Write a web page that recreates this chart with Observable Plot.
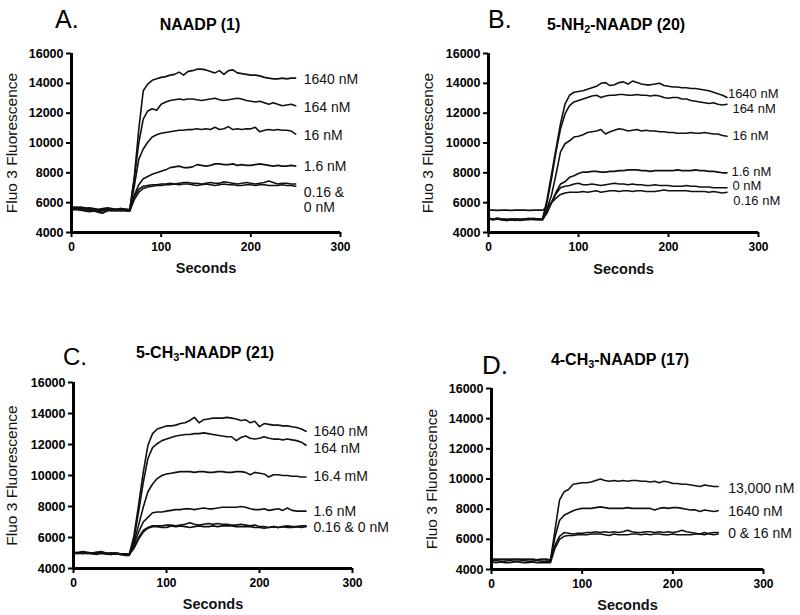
<!DOCTYPE html>
<html><head><meta charset="utf-8">
<script src="https://cdn.jsdelivr.net/npm/d3@7"></script>
<script src="https://cdn.jsdelivr.net/npm/@observablehq/plot@0.6"></script>
<style>
body{margin:0;background:#fff;font-family:"Liberation Sans",Arial,sans-serif;}
#wrap{position:relative;width:800px;height:615px;overflow:hidden;background:#fff}
.panel{position:absolute}
.letter{position:absolute;line-height:1;white-space:nowrap;color:#000}
.title{position:absolute;line-height:1;font-size:16px;font-weight:bold;white-space:nowrap;transform:translateX(-50%);color:#000}
.title sub{font-size:0.68em;vertical-align:-0.3em;line-height:0}
</style></head>
<body><div id="wrap"></div>
<script>
// ---------- data ----------
const timesACD = [0,5,10,15,20,25,30,35,40,45,50,55,60,65,70,75,80,85,90,95,100,105,110,115,120,125,130,135,140,145,150,155,160,165,170,175,180,185,190,195,200,205,210,215,220,225,230,235,240,245,250];
const timesB = [0,5,10,15,20,25,30,35,40,45,50,55,60,65,70,75,80,85,90,95,100,105,110,115,120,125,130,135,140,145,150,155,160,165,170,175,180,185,190,195,200,205,210,215,220,225,230,235,240,245,250,255,260,265];

const yTicks = [4000,6000,8000,10000,12000,14000,16000];
const xTicks = [0,100,200,300];

// Panel A: NAADP (1)
const namesA = ["1640 nM","164 nM","16 nM","1.6 nM","0.16 nM","0 nM"];
const a1640 = [5650,5700,5650,5600,5650,5600,5550,5600,5650,5600,5550,5600,5550,5550,7700,10900,13500,13950,14200,14300,14400,14450,14550,14600,14750,14550,14800,14850,14950,14950,14900,14800,14700,14850,14600,14850,14900,14700,14650,14600,14550,14550,14500,14400,14350,14300,14300,14350,14300,14350,14350];
const a164 = [5600,5650,5600,5550,5600,5500,5450,5500,5550,5500,5500,5550,5500,5500,7600,10000,11600,12150,12300,12200,12600,12750,12850,12900,12950,12900,12950,12950,12900,12850,12900,12950,13000,12900,12850,12900,12950,13000,12950,12850,12800,12750,12800,12700,12600,12700,12600,12500,12550,12600,12500];
const a16 = [5700,5650,5700,5650,5600,5550,5500,5550,5600,5550,5550,5600,5550,5500,7100,8900,9600,10050,10400,10550,10650,10700,10750,10800,10850,10850,10900,10900,10950,10900,10950,10900,11050,10900,10950,11100,10900,10950,10900,10950,10950,11050,10750,10850,10900,10850,10900,10850,10850,10800,10600];
const a1_6 = [5500,5550,5500,5450,5400,5450,5350,5300,5450,5500,5450,5500,5450,5450,6500,7200,7600,7750,7900,8000,8100,8200,8350,8400,8450,8350,8350,8400,8550,8500,8450,8500,8600,8600,8550,8550,8600,8500,8550,8500,8500,8550,8600,8550,8500,8450,8500,8450,8450,8500,8450];
const a0_16 = [5600,5550,5600,5550,5500,5450,5400,5350,5500,5550,5500,5450,5500,5450,6400,6900,7100,7150,7200,7200,7250,7250,7300,7250,7300,7350,7350,7300,7300,7250,7300,7350,7300,7300,7400,7350,7300,7250,7300,7350,7300,7250,7300,7350,7450,7350,7250,7300,7300,7250,7250];
const a0 = [5550,5600,5550,5500,5550,5500,5450,5500,5550,5450,5500,5550,5500,5450,6200,6700,6950,7050,7100,7150,7150,7200,7200,7250,7200,7250,7250,7200,7150,7200,7250,7200,7150,7200,7250,7200,7200,7150,7150,7200,7200,7150,7200,7200,7150,7150,7150,7200,7150,7150,7100];
const labelsA = ["1640 nM","164 nM","16 nM","1.6 nM","0.16 &\n0 nM"];
const labelValA = [14255,12400,10500,8440,6205];
const labelTA = [259,259,259,259,259];

// Panel B: 5-NH2-NAADP (20)
const namesB = ["1640 nM","164 nM","16 nM","1.6 nM","0 nM","0.16 nM"];
const b1640 = [4950,4900,4950,4900,4850,4900,4900,4850,4900,4900,4950,4900,4900,6200,7900,9600,11300,12600,13200,13400,13450,13500,13600,13700,13800,14000,14050,13850,13900,14050,14100,13950,14150,14050,13950,13900,13900,13950,14000,13850,13800,13750,13750,13700,13700,13650,13650,13600,13550,13500,13400,13300,13200,13050];
const b164 = [4900,4850,4900,4850,4800,4850,4850,4800,4850,4850,4900,4850,4850,6000,7600,9400,10950,11950,12500,12750,12850,12950,13050,13150,13200,13050,13150,13200,13200,13250,13250,13200,13200,13250,13200,13200,13150,13200,13150,13050,13000,13050,13050,12950,12950,12850,12800,12750,12700,12650,12700,12600,12550,12600];
const b16 = [4950,4900,4900,4850,4850,4900,4850,4850,4900,4900,4900,4900,4900,5600,6500,7900,9400,9950,10150,10400,10450,10550,10700,10750,10800,10900,10600,10750,10850,10950,10900,10800,10850,10900,10800,10850,10800,10800,10750,10750,10700,10700,10650,10650,10650,10700,10650,10650,10700,10650,10600,10600,10500,10450];
const b1_6 = [4950,4900,4950,4900,4900,4850,4900,4900,4900,4950,4900,4900,4900,5400,6000,6700,7250,7400,7700,7800,7950,8050,8050,8100,8100,8050,8050,8100,8100,8150,8150,8200,8200,8200,8150,8150,8100,8150,8150,8150,8150,8150,8200,8150,8150,8150,8200,8150,8150,8100,8100,8050,8000,8000];
const b0 = [4900,4850,4900,4850,4800,4850,4800,4850,4850,4900,4850,4850,4850,5300,6000,6600,7000,7100,7150,7250,7300,7200,7200,7250,7200,7150,7200,7250,7300,7250,7250,7200,7250,7200,7200,7150,7150,7200,7150,7150,7150,7100,7100,7100,7150,7100,7100,7050,7050,7050,7000,7000,7000,7000];
const b0_16 = [5500,5500,5480,5500,5500,5480,5500,5500,5500,5480,5500,5500,5500,5700,6000,6300,6550,6650,6700,6700,6700,6750,6700,6750,6800,6700,6750,6800,6800,6750,6800,6800,6750,6800,6800,6750,6750,6750,6800,6850,6800,6800,6800,6800,6800,6750,6750,6750,6750,6700,6750,6700,6650,6700];
const labelsB = ["1640 nM","164 nM","16 nM","1.6 nM","0 nM","0.16 nM"];
const labelValB = [13330,12290,10480,8100,7170,6150];
const labelTB = [266,271,271,270,271,272];

// Panel C: 5-CH3-NAADP (21)
const namesC = ["1640 nM","164 nM","16.4 mM","1.6 nM","0.16 nM","0 nM"];
const c1640 = [5000,5050,5100,5050,5000,5050,5100,5000,4950,5000,4950,4900,4900,6100,8100,10200,11950,12700,13000,13100,13200,13200,13250,13350,13400,13550,13750,13400,13600,13650,13700,13700,13700,13750,13700,13650,13550,13600,13400,13500,13150,13350,13300,13250,13250,13200,13200,13150,13100,13000,12850];
const c164 = [4950,5000,5050,5000,4950,5000,5050,4950,4900,4950,4900,4850,4850,5900,7650,9550,11100,11800,12050,12250,12350,12450,12550,12600,12650,12650,12700,12700,12750,12700,12650,12600,12550,12500,12500,12250,12450,12550,12400,12350,12400,12500,12400,12350,12350,12300,12350,12300,12250,12150,11950];
const c16_4 = [5050,5000,5050,5000,5000,5050,5000,4950,5000,4950,4950,4900,4950,5700,6800,7950,8950,9450,9800,10000,10100,10150,10200,10250,10250,10250,10200,10250,10250,10200,10200,10250,10250,10200,10200,10250,10250,10200,10050,10200,10150,10100,9900,10050,10050,10000,10000,9950,9950,9900,9900];
const c1_6 = [5000,4950,5000,4950,5000,5000,4950,4950,5000,5000,4950,4950,4900,5550,6350,7000,7300,7600,7650,7650,7700,7750,7800,7800,7850,7850,7800,7850,7900,7850,7850,7900,7950,7950,7950,7950,8000,7950,7850,7800,7800,7850,7750,7800,7850,7750,7900,7750,7700,7700,7700];
const c0_16 = [4950,5000,4950,5000,4950,4900,5000,4950,4900,4950,4900,4900,4900,5400,6000,6450,6650,6750,6750,6750,6800,6800,6750,6800,6850,6950,6850,6800,6850,6900,6850,6900,6850,6850,6800,6800,6850,6800,6750,6800,6700,6700,6650,6700,6650,6700,6750,6700,6700,6750,6750];
const c0 = [5050,5000,5050,5000,5000,4950,5050,5000,4950,5000,4950,4950,4900,5300,5900,6350,6600,6700,6700,6650,6650,6750,6700,6750,6700,6650,6700,6750,6700,6700,6750,6700,6750,6750,6750,6700,6700,6700,6700,6650,6650,6600,6650,6700,6650,6700,6650,6650,6700,6650,6700];
const labelsC = ["1640 nM","164 nM","16.4 mM","1.6 nM","0.16 & 0 nM"];
const labelValC = [12858,11761,9955,7697,6665];
const labelTC = [258,258,258,258,258];

// Panel D: 4-CH3-NAADP (17)
const namesD = ["13,000 nM","1640 nM","16 nM","0 nM"];
const d13000 = [4650,4700,4650,4700,4650,4700,4700,4650,4700,4650,4650,4700,4650,4600,6600,8600,9150,9300,9650,9700,9750,9750,9800,9900,10000,9900,9850,9900,9850,9900,9850,9900,9900,9850,9850,9800,9850,9750,9850,9800,9700,9700,9650,9650,9600,9550,9500,9600,9550,9500,9500];
const d1640 = [4550,4600,4550,4550,4600,4550,4550,4600,4550,4550,4600,4550,4550,4500,6150,7250,7600,7750,7900,8000,8050,8050,8050,8100,8150,8100,8050,8050,8050,8050,8100,8050,8050,8050,8050,8050,7950,8050,8100,8050,8100,8100,8050,8000,7950,7950,7850,7950,7900,7850,7900];
const d16 = [4700,4650,4700,4650,4700,4650,4650,4700,4650,4700,4650,4650,4700,4650,5600,6200,6450,6400,6350,6400,6400,6450,6450,6500,6450,6500,6450,6500,6450,6500,6600,6500,6450,6450,6500,6500,6450,6500,6450,6500,6450,6500,6600,6500,6450,6400,6350,6300,6400,6450,6450];
const d0 = [4500,4450,4500,4450,4450,4500,4500,4450,4450,4500,4450,4450,4450,4450,5400,6000,6200,6250,6250,6300,6300,6300,6350,6350,6350,6300,6250,6350,6300,6300,6300,6350,6350,6300,6350,6300,6350,6350,6300,6300,6350,6300,6300,6300,6300,6350,6350,6450,6350,6300,6350];
const labelsD = ["13,000 nM","1640 nM","0 & 16 nM"];
const labelValD = [9369,7883,6384];
const labelTD = [261,261,261];

// ---------- layout ----------
const FONT = '"Liberation Sans", Arial, Helvetica, sans-serif';
const wrap = document.getElementById("wrap");

const panels = [
  {letter:"A.", title:"NAADP (1)", left:0, top:0, w:400, h:300, ml:71, mr:60, mt:53, mb:68,
   times:timesACD, names:namesA, series:[a1640,a164,a16,a1_6,a0_16,a0],
   labels:labelsA, labelVal:labelValA, labelT:labelTA, labFs:14, ylabDx:-59, xlabDy:36,
   letterPos:{x:55, y:6.5, fs:25}, titlePos:{x:200, y:17}},
  {letter:"B.", title:"5-NH<sub>2</sub>-NAADP (20)", left:400, top:0, w:400, h:300, ml:88, mr:42, mt:53, mb:68,
   times:timesB, names:namesB, series:[b1640,b164,b16,b1_6,b0,b0_16],
   labels:labelsB, labelVal:labelValB, labelT:labelTB, labFs:13, ylabDx:-60, xlabDy:37,
   letterPos:{x:488, y:6.5, fs:25}, titlePos:{x:616, y:17}},
  {letter:"C.", title:"5-CH<sub>3</sub>-NAADP (21)", left:0, top:300, w:400, h:315, ml:73, mr:48, mt:82, mb:47,
   times:timesACD, names:namesC, series:[c1640,c164,c16_4,c1_6,c0_16,c0],
   labels:labelsC, labelVal:labelValC, labelT:labelTC, labFs:14, ylabDx:-61, xlabDy:36,
   letterPos:{x:63, y:345, fs:24}, titlePos:{x:205, y:344.5}},
  {letter:"D.", title:"4-CH<sub>3</sub>-NAADP (17)", left:400, top:300, w:400, h:315, ml:91, mr:37, mt:88, mb:46,
   times:timesACD, names:namesD, series:[d13000,d1640,d16,d0],
   labels:labelsD, labelVal:labelValD, labelT:labelTD, labFs:14, ylabDx:-59, xlabDy:36,
   letterPos:{x:482, y:352, fs:26}, titlePos:{x:620, y:352}}
];

for (const p of panels) {
  const rows = [];
  p.series.forEach((s, i) => s.forEach((v, j) => {
    if (j < p.times.length) rows.push({t: p.times[j], v, s: p.names[i]});
  }));
  const labs = p.labels.map((text, i) => ({text, t: p.labelT[i], v: p.labelVal[i]}));

  const chart = Plot.plot({
    width: p.w, height: p.h,
    marginLeft: p.ml, marginRight: p.mr, marginTop: p.mt, marginBottom: p.mb,
    x: {domain: [0, 300]},
    y: {domain: [4000, 16000]},
    style: {fontFamily: FONT, background: "transparent", overflow: "visible", maxWidth: "none", color: "#000"},
    marks: [
      Plot.axisY({ticks: yTicks, tickFormat: d3.format("d"), tickSize: 5, tickPadding: 3,
        fontSize: 12.5, fontWeight: "bold", strokeWidth: 2, label: null}),
      Plot.axisX({ticks: xTicks, tickFormat: d3.format("d"), tickSize: 5, tickPadding: 5,
        fontSize: 12, fontWeight: "bold", strokeWidth: 2, label: null}),
      Plot.line(rows, {x: "t", y: "v", z: "s", stroke: "#111", strokeWidth: 1.6, curve: "linear"}),
      Plot.ruleX([0], {stroke: "#000", strokeWidth: 3}),
      Plot.ruleY([4000], {stroke: "#000", strokeWidth: 3}),
      Plot.text(labs, {x: "t", y: "v", text: "text", textAnchor: "start", lineAnchor: "middle", fontSize: p.labFs, lineHeight: 1.07, fill: "#111"}),
      Plot.text(["Fluo 3 Fluorescence"], {text: d => d, frameAnchor: "left", dx: p.ylabDx, rotate: -90,
        textAnchor: "middle", lineAnchor: "middle", fontSize: 15.5, fill: "#111"}),
      Plot.text(["Seconds"], {text: d => d, frameAnchor: "bottom", dy: p.xlabDy,
        textAnchor: "middle", lineAnchor: "middle", fontSize: 14.5, fontWeight: "bold", fill: "#111"})
    ]
  });
  const div = document.createElement("div");
  div.className = "panel";
  div.style.left = p.left + "px";
  div.style.top = p.top + "px";
  div.style.width = p.w + "px";
  div.style.height = p.h + "px";
  div.appendChild(chart);
  wrap.appendChild(div);

  const L = document.createElement("div");
  L.className = "letter";
  L.style.left = p.letterPos.x + "px";
  L.style.top = p.letterPos.y + "px";
  L.style.fontSize = p.letterPos.fs + "px";
  L.textContent = p.letter;
  wrap.appendChild(L);

  const T = document.createElement("div");
  T.className = "title";
  T.style.left = p.titlePos.x + "px";
  T.style.top = p.titlePos.y + "px";
  T.innerHTML = p.title;
  wrap.appendChild(T);
}
</script>
</body></html>
